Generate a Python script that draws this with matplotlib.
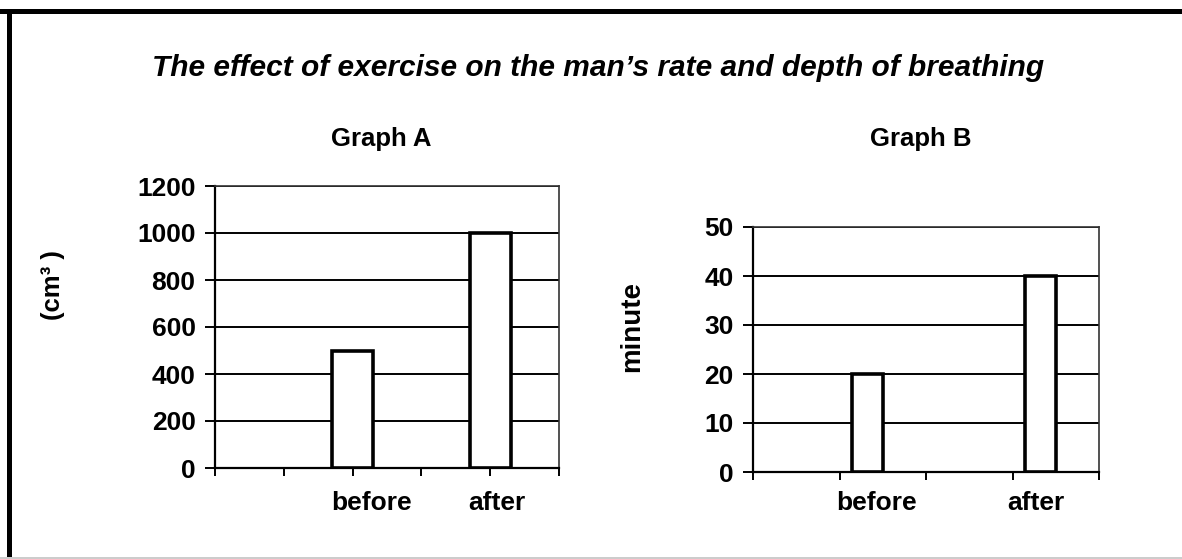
import matplotlib
matplotlib.use("Agg")
import matplotlib.pyplot as plt
from matplotlib.patches import Rectangle
import numpy as np

# Data
categories = ["before", "after"]
volume_cm3 = [500, 1000]        # Graph A
rate_per_min = [20, 40]         # Graph B

title = "The effect of exercise on the man\u2019s rate and depth of breathing"

plt.rcParams['font.family'] = ['Liberation Sans', 'DejaVu Sans']
plt.rcParams['font.weight'] = 'bold'

fig = plt.figure(figsize=(11.82, 5.59), dpi=100)
W, H = 1182, 559


def px_axes(x0, x1, y0, y1):
    # pixel box -> figure fraction
    return fig.add_axes([x0 / W, 1 - y1 / H, (x1 - x0) / W, (y1 - y0) / H])


def style(ax, ymax, ystep, nslots):
    ax.set_ylim(0, ymax)
    ax.set_xlim(0, nslots)
    ax.set_yticks(np.arange(0, ymax + 1, ystep))
    ax.set_xticks(np.arange(0, nslots + 1))
    ax.set_xticklabels([])
    ax.yaxis.grid(True, color='black', linewidth=1.4)
    ax.set_axisbelow(True)
    for s in ['left', 'bottom']:
        ax.spines[s].set_linewidth(1.6)
    for s in ['top', 'right']:
        ax.spines[s].set_linewidth(1.2)
        ax.spines[s].set_color('#333333')
    ax.tick_params(axis='y', length=7, width=1.4, pad=7, labelsize=19)
    ax.tick_params(axis='x', length=6, width=1.4)
    for lab in ax.get_yticklabels():
        lab.set_fontweight('bold')


# Graph A
axA = px_axes(215, 559, 186, 468)
style(axA, 1200, 200, 5)
xa = [2 + 2 * i for i in range(len(categories))]
axA.bar(xa, volume_cm3, width=0.6, color='white', edgecolor='black', linewidth=2.6, zorder=3)
for x, c in zip([2.27, 4.1], categories):
    axA.text(x, -0.125, c, transform=axA.get_xaxis_transform(), ha='center', va='center',
             fontsize=19, fontweight='bold')
fig.text(381 / W, 1 - 139 / H, "Graph A", ha='center', va='center', fontsize=18.5, fontweight='bold')
fig.text(53 / W, 1 - 285 / H, "(cm\u00b3 )", rotation=90, ha='center', va='center',
         fontsize=18.5, fontweight='bold')

# Graph B
axB = px_axes(753, 1099, 227, 472)
style(axB, 50, 10, 4)
xb = [1.32 + 2 * i for i in range(len(categories))]
axB.bar(xb, rate_per_min, width=0.36, color='white', edgecolor='black', linewidth=2.6, zorder=3)
for x, c in zip([1.43, 3.27], categories):
    axB.text(x, -0.128, c, transform=axB.get_xaxis_transform(), ha='center', va='center',
             fontsize=19, fontweight='bold')
fig.text(921 / W, 1 - 139 / H, "Graph B", ha='center', va='center', fontsize=18.5, fontweight='bold')
fig.text(632 / W, 1 - 326 / H, "minute", rotation=90, ha='center', va='center',
         fontsize=20, fontweight='bold')

# Main title
fig.text(598 / W, 1 - 68 / H, title, ha='center', va='center', fontsize=21.5,
         fontweight='bold', fontstyle='italic')

# Frame: thick black on left/top, light grey on bottom
fig.patches.append(Rectangle((0, 1 - 14 / H), 1, 5 / H, transform=fig.transFigure,
                             facecolor='black', edgecolor='none'))
fig.patches.append(Rectangle((7 / W, 0), 5 / W, 1 - 9 / H, transform=fig.transFigure,
                             facecolor='black', edgecolor='none'))
fig.patches.append(Rectangle((0, 0), 1, 2 / H, transform=fig.transFigure,
                             facecolor='#cccccc', edgecolor='none'))

fig.savefig("out.png", dpi=100)
